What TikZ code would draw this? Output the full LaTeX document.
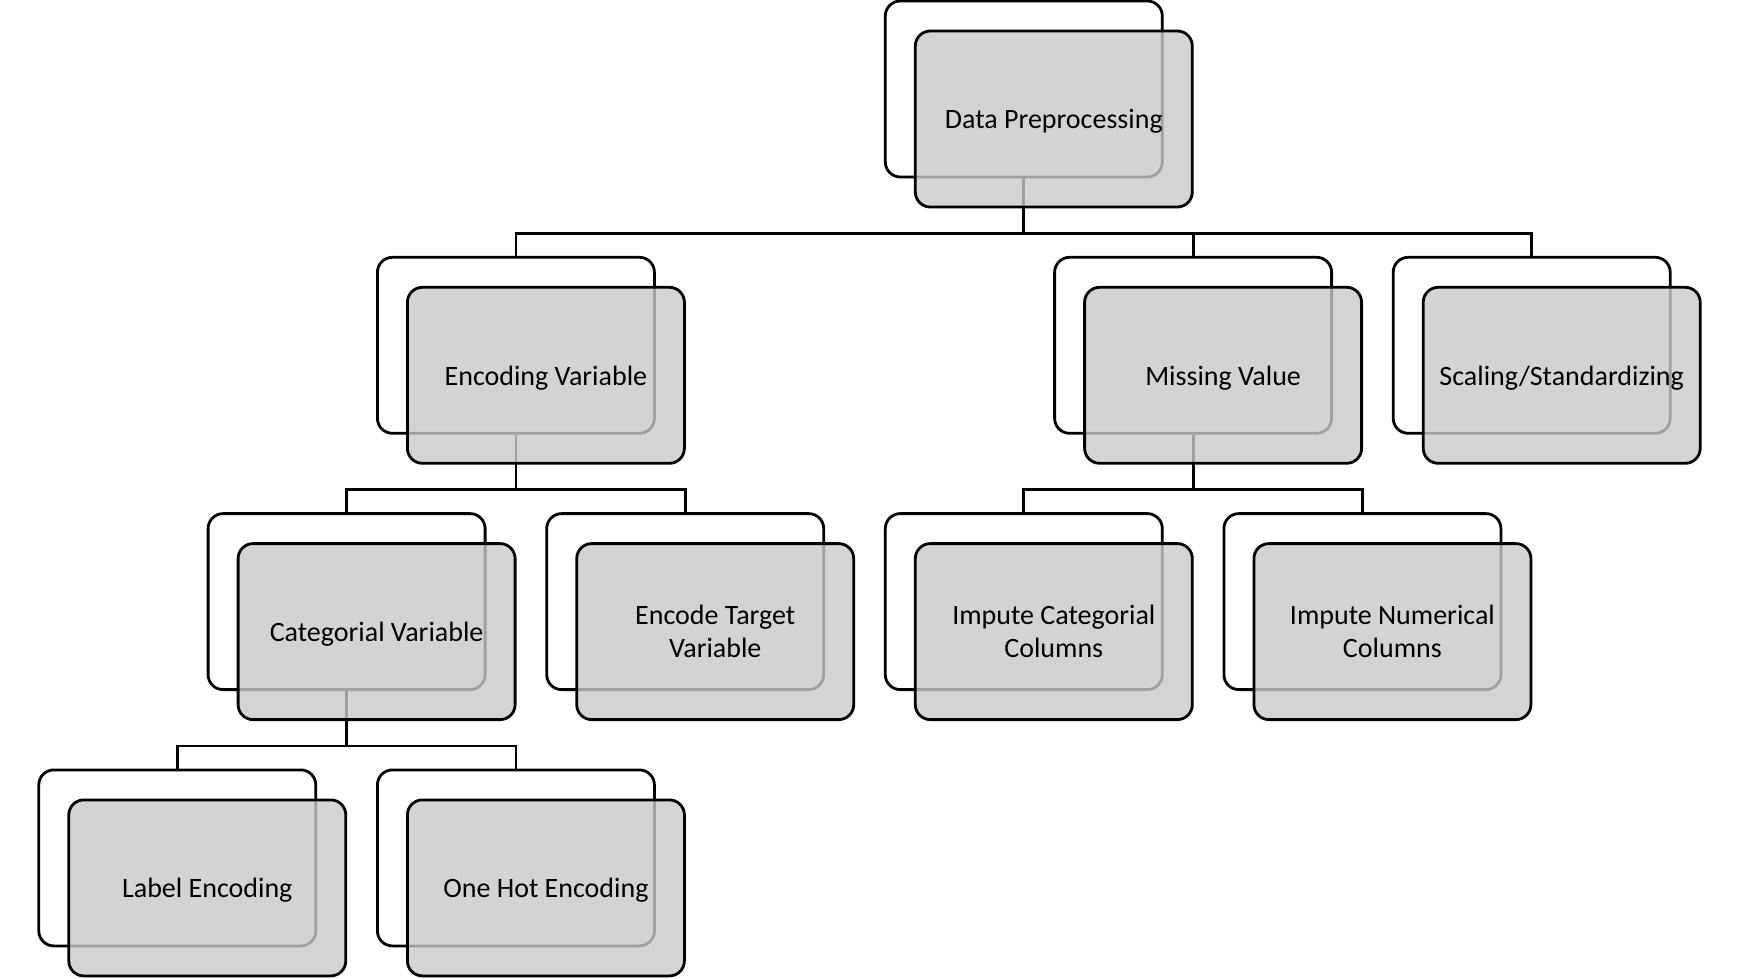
\documentclass[tikz,border=0pt]{standalone}
\usepackage{fontspec}
\setmainfont{Carlito}
\begin{document}
\begin{tikzpicture}[x=0.5pt,y=-0.5pt,
 back/.style={draw=black, line width=1.4pt, rounded corners=7.5pt, fill=white, minimum width=138.5pt, minimum height=88pt, inner sep=0pt},
 front/.style={draw=black, line width=1.4pt, rounded corners=7.5pt, fill=black!21, fill opacity=0.8, text opacity=1, minimum width=138.5pt, minimum height=88pt, inner sep=0pt, align=center, font=\fontsize{14}{16.5}\selectfont},
 oneline/.style={text depth=0pt},
 link/.style={draw=black, line width=1.4pt}]
\useasboundingbox (0,0) rectangle (1739,979);
% back boxes
\node[back] (dpb) at (1023.8,89) {};
\node[back] (evb) at (515.9,345.3) {};
\node[back] (mvb) at (1193.1,345.3) {};
\node[back] (ssb) at (1531.7,345.3) {};
\node[back] (cvb) at (346.6,601.6) {};
\node[back] (etb) at (685.2,601.6) {};
\node[back] (icb) at (1023.8,601.6) {};
\node[back] (inb) at (1362.4,601.6) {};
\node[back] (leb) at (177.3,857.9) {};
\node[back] (ohb) at (515.9,857.9) {};
% connectors
\draw[link] (dpb.south) -- ++(0,55) -| (evb.north);
\draw[link] (dpb.south) -- ++(0,55) -| (mvb.north);
\draw[link] (dpb.south) -- ++(0,55) -| (ssb.north);
\draw[link] (evb.south) -- ++(0,55) -| (cvb.north);
\draw[link] (evb.south) -- ++(0,55) -| (etb.north);
\draw[link] (mvb.south) -- ++(0,55) -| (icb.north);
\draw[link] (mvb.south) -- ++(0,55) -| (inb.north);
\draw[link] (cvb.south) -- ++(0,55) -| (leb.north);
\draw[link] (cvb.south) -- ++(0,55) -| (ohb.north);
% front boxes
\node[front,oneline] (dp) at (1053.8,119) {Data Preprocessing};
\node[front,oneline] (ev) at (545.9,375.3) {Encoding Variable};
\node[front,oneline] (mv) at (1223.1,375.3) {Missing Value};
\node[front,oneline] (ss) at (1561.7,375.3) {Scaling/Standardizing};
\node[front,oneline] (cv) at (376.6,631.6) {Categorial Variable};
\node[front] (et) at (715.2,631.6) {Encode Target\\Variable};
\node[front] (ic) at (1053.8,631.6) {Impute Categorial\\Columns};
\node[front] (inum) at (1392.4,631.6) {Impute Numerical\\Columns};
\node[front,oneline] (le) at (207.3,887.9) {Label Encoding};
\node[front,oneline] (oh) at (545.9,887.9) {One Hot Encoding};
\end{tikzpicture}
\end{document}
